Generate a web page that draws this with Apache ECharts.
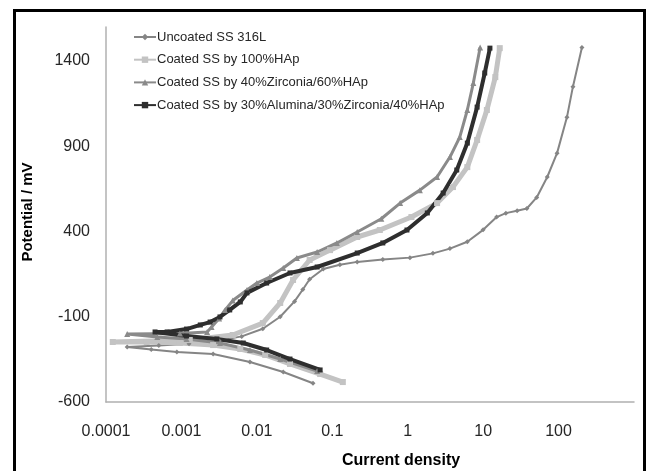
<!DOCTYPE html>
<html>
<head>
<meta charset="utf-8">
<script src="https://cdn.jsdelivr.net/npm/echarts@6/dist/echarts.min.js"></script>
<style>
  html, body { margin: 0; padding: 0; background: #fff; }
  #chart { width: 646px; height: 471px; }
</style>
</head>
<body>
<div id="chart"></div>
<script>
// Potentiodynamic polarisation curves (current density vs potential)
const seriesNames = [
  'Uncoated SS 316L',
  'Coated SS by 100%HAp',
  'Coated SS by 40%Zirconia/60%HAp',
  'Coated SS by 30%Alumina/30%Zirconia/40%HAp'
];

const xTickLabels = ['0.0001', '0.001', '0.01', '0.1', '1', '10', '100'];
const yTickLabels = [-600, -100, 400, 900, 1400];

// each curve runs from the cathodic end, through Ecorr, to the anodic end
const uncoatedCurrent = [0.0555, 0.0224, 0.0081, 0.00263, 0.000871, 0.000398, 0.000191, 0.000501, 0.00126, 0.00316, 0.0063, 0.012, 0.0204, 0.0316, 0.0407, 0.0501, 0.0759, 0.126, 0.214, 0.468, 1.07, 2.16, 3.63, 6.17, 10, 15.1, 20, 28.2, 38, 51.3, 70.8, 95.5, 129, 155, 204];
const uncoatedPotential = [-490, -424, -365, -318, -307, -292, -278, -268, -258, -240, -215, -170, -100, -10, 60, 120, 180, 205, 222, 236, 247, 272, 300, 340, 410, 485, 508, 522, 535, 600, 720, 860, 1070, 1250, 1480];

const hapCurrent = [0.138, 0.069, 0.0275, 0.0129, 0.00603, 0.00263, 0.000955, 0.000347, 0.000123, 0.00129, 0.00479, 0.012, 0.0204, 0.0302, 0.0501, 0.0933, 0.214, 0.427, 1.12, 2.45, 3.98, 6.17, 8.32, 11.2, 14.5, 16.6];
const hapPotential = [-483, -436, -377, -324, -289, -266, -254, -248, -248, -236, -207, -137, -19, 116, 233, 291, 368, 409, 485, 567, 661, 778, 937, 1113, 1306, 1476];

const zirconiaCurrent = [0.063, 0.0204, 0.0081, 0.00324, 0.00117, 0.000479, 0.000191, 0.000955, 0.00219, 0.00251, 0.00316, 0.0038, 0.00479, 0.0074, 0.01, 0.0148, 0.0224, 0.0339, 0.063, 0.115, 0.214, 0.447, 0.794, 1.45, 2.45, 3.63, 4.9, 6.17, 7.41, 9.12];
const zirconiaPotential = [-418, -348, -295, -254, -230, -219, -201, -198, -190, -160, -110, -60, -5, 57, 98, 133, 186, 245, 280, 333, 397, 475, 567, 643, 720, 837, 954, 1113, 1271, 1480];

const aluminaCurrent = [0.069, 0.0275, 0.0135, 0.0066, 0.00295, 0.00117, 0.000447, 0.000646, 0.00117, 0.00178, 0.0024, 0.00324, 0.00437, 0.00603, 0.0074, 0.0135, 0.0275, 0.063, 0.214, 0.468, 0.977, 1.82, 2.95, 4.47, 6.17, 8.32, 10.5, 12.3];
const aluminaPotential = [-412, -348, -295, -254, -230, -213, -189, -189, -172, -148, -131, -101, -60, -13, 40, 98, 157, 192, 274, 333, 409, 509, 626, 761, 919, 1130, 1330, 1476];

const pairs = (xs, ys) => xs.map((x, i) => [x, ys[i]]);

const FONT = '"Liberation Sans", Arial, sans-serif';
const TEXT = '#262626';

const chart = echarts.init(document.getElementById('chart'), null, { renderer: 'canvas' });

function lineSeries(name, data, color, width, symbol, size) {
  return {
    name, type: 'line', data,
    showSymbol: true, symbol, symbolSize: size,
    lineStyle: { color, width },
    itemStyle: { color, borderWidth: 0 },
    emphasis: { disabled: true },
    animation: false,
    z: 2
  };
}

chart.setOption({
  backgroundColor: '#ffffff',
  animation: false,
  grid: { left: 106, right: 12, top: 27, bottom: 69 },
  legend: {
    orient: 'vertical',
    left: 128, top: 25,
    itemWidth: 22, itemHeight: 8, itemGap: 8.7,
    textStyle: { fontFamily: FONT, fontSize: 13, color: TEXT, lineHeight: 14, padding: [0, 0, 0, -4] },
    data: seriesNames
  },
  xAxis: {
    type: 'log', logBase: 10,
    min: 0.0001, max: 1000,
    axisLine: { show: true, onZero: false, lineStyle: { color: '#b0b0b0', width: 1.5 } },
    axisTick: { show: false },
    splitLine: { show: false },
    axisLabel: {
      fontFamily: FONT, fontSize: 16, color: TEXT, margin: 22,
      formatter: v => {
        const k = Math.round(Math.log10(v)) + 4;
        return xTickLabels[k] !== undefined ? xTickLabels[k] : '';
      }
    }
  },
  yAxis: {
    type: 'value',
    min: -600, max: 1600, interval: 500,
    axisLine: { show: true, onZero: false, lineStyle: { color: '#b0b0b0', width: 1.5 } },
    axisTick: { show: false },
    splitLine: { show: false },
    axisLabel: {
      fontFamily: FONT, fontSize: 16, color: TEXT, margin: 16,
      formatter: v => (yTickLabels.indexOf(v) >= 0 ? String(v) : '')
    }
  },
  series: [
    lineSeries(seriesNames[0], pairs(uncoatedCurrent, uncoatedPotential), '#858585', 2, 'diamond', 5),
    lineSeries(seriesNames[1], pairs(hapCurrent, hapPotential), '#c3c3c3', 5, 'rect', 6),
    lineSeries(seriesNames[2], pairs(zirconiaCurrent, zirconiaPotential), '#8a8a8a', 3, 'triangle', 6),
    lineSeries(seriesNames[3], pairs(aluminaCurrent, aluminaPotential), '#2e2e2e', 4, 'rect', 5)
  ],
  graphic: [
    {
      type: 'rect', silent: true, z: 100,
      shape: { x: 14.5, y: 10.5, width: 630, height: 480 },
      style: { fill: 'none', stroke: '#000', lineWidth: 3 }
    },
    {
      type: 'text', silent: true,
      x: 401, y: 461,
      style: { text: 'Current density', fontFamily: FONT, fontSize: 16, fontWeight: 'bold', fill: '#000', align: 'center', verticalAlign: 'middle' }
    },
    {
      type: 'text', silent: true,
      x: 28, y: 212, rotation: Math.PI / 2,
      style: { text: 'Potential / mV', fontFamily: FONT, fontSize: 15, fontWeight: 'bold', fill: '#000', align: 'center', verticalAlign: 'middle' }
    }
  ]
});
</script>
</body>
</html>
